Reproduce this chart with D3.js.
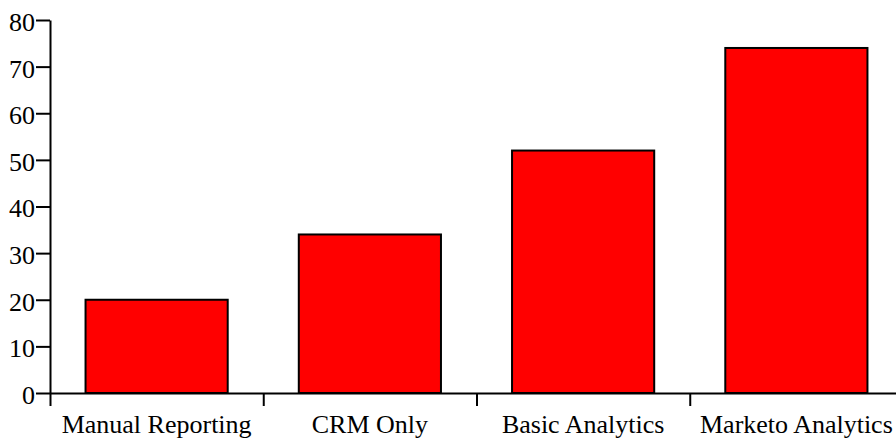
<!DOCTYPE html>
<html>
<head>
<meta charset="utf-8">
<script src="https://cdn.jsdelivr.net/npm/d3@7"></script>
<style>
  body { margin: 0; background: #fff; }
</style>
</head>
<body>
<svg id="chart"></svg>
<script>
const categories = ["Manual Reporting", "CRM Only", "Basic Analytics", "Marketo Analytics"];
const values = [20, 34, 52, 74];
const yTicks = [0, 10, 20, 30, 40, 50, 60, 70, 80];

const width = 896, height = 440;
const margin = { top: 20, right: -7, bottom: 47, left: 50 };
const fontFamily = "'Liberation Serif', 'Times New Roman', Times, serif";

const svg = d3.select("#chart").attr("width", width).attr("height", height);

const x = d3.scaleBand()
    .domain(categories)
    .range([margin.left, width - margin.right])
    .paddingInner(1 / 3)
    .paddingOuter(1 / 6);

// boundaries between categories, for the tick marks
const xb = d3.scaleLinear()
    .domain([0, categories.length])
    .range([margin.left, width - margin.right]);

const y = d3.scaleLinear()
    .domain([0, 80])
    .range([height - margin.bottom, margin.top]);

svg.append("g")
  .selectAll("rect")
  .data(values)
  .join("rect")
    .attr("x", (d, i) => x(categories[i]))
    .attr("y", d => y(d))
    .attr("width", x.bandwidth())
    .attr("height", d => y(0) - y(d))
    .attr("fill", "#ff0000")
    .attr("stroke", "#000")
    .attr("stroke-width", 2);

// x tick marks at band boundaries
const xTickAxis = svg.append("g")
    .attr("transform", `translate(0,${y(0)})`)
    .call(d3.axisBottom(xb).tickValues(d3.range(categories.length + 1)).tickFormat("").tickSize(13).tickSizeOuter(0));
xTickAxis.selectAll("line, path").attr("stroke", "#000").attr("stroke-width", 2);

// x labels centred on the bands
const xLabels = svg.append("g")
    .attr("transform", `translate(0,${y(0)})`)
    .call(d3.axisBottom(x).tickSize(0).tickSizeOuter(0));
xLabels.select(".domain").remove();
xLabels.attr("font-family", fontFamily);
xLabels.selectAll("text")
    .attr("y", 40)
    .attr("dy", 0)
    .attr("fill", "#000")
    .style("font-family", fontFamily)
    .style("font-size", "26px");

const yAxis = svg.append("g")
    .attr("transform", `translate(${margin.left},0)`)
    .call(d3.axisLeft(y).tickValues(yTicks).tickSize(14).tickSizeOuter(0).tickPadding(1));
yAxis.attr("font-family", fontFamily);
yAxis.selectAll("line, path").attr("stroke", "#000").attr("stroke-width", 2);
yAxis.selectAll("text")
    .attr("fill", "#000")
    .attr("dy", "0.4em")
    .style("font-family", fontFamily)
    .style("font-size", "26px");
</script>
</body>
</html>
